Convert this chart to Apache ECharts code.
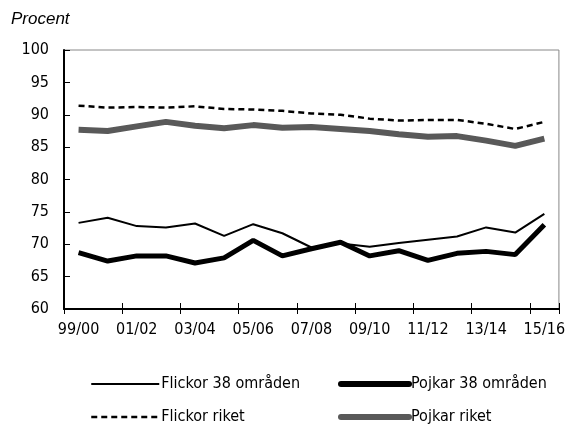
<!DOCTYPE html>
<html><head><meta charset="utf-8">
<script src="https://cdn.jsdelivr.net/npm/echarts@6/dist/echarts.min.js"></script>
<style>html,body{margin:0;padding:0;background:#fff}#c{width:568px;height:428px}</style>
</head><body><div id="c"></div>
<script>
const categories = ['99/00','00/01','01/02','02/03','03/04','04/05','05/06','06/07','07/08','08/09','09/10','10/11','11/12','12/13','13/14','14/15','15/16'];
const flickor38 = [73.3, 74.1, 72.8, 72.6, 73.2, 71.3, 73.1, 71.7, 69.5, 70.1, 69.6, 70.2, 70.7, 71.2, 72.6, 71.8, 74.7];
const pojkar38 = [68.7, 67.4, 68.2, 68.2, 67.1, 67.9, 70.6, 68.2, 69.3, 70.3, 68.2, 69.0, 67.5, 68.6, 68.9, 68.4, 73.0];
const flickorRiket = [91.4, 91.1, 91.2, 91.1, 91.3, 90.9, 90.8, 90.6, 90.2, 90.0, 89.4, 89.1, 89.2, 89.2, 88.6, 87.8, 88.9];
const pojkarRiket = [87.7, 87.5, 88.2, 88.9, 88.3, 87.9, 88.4, 88.0, 88.1, 87.8, 87.5, 87.0, 86.6, 86.7, 86.0, 85.2, 86.3];
const yTicks = [60, 65, 70, 75, 80, 85, 90, 95, 100];

const FONT = '"DejaVu Sans Condensed", "DejaVu Sans", sans-serif';
const W = 'condensed';
const chart = echarts.init(document.getElementById('c'), null, {renderer: 'canvas'});
const mk = (name, data, color, width, type, z) => ({
  name, type: 'line', data, symbol: 'none', showSymbol: false, z,
  lineStyle: {color, width, type},
  itemStyle: {color},
  emphasis: {disabled: true}, animation: false
});
const legendText = {fontSize: 16, fontFamily: FONT, fontWeight: W, color: '#000', lineHeight: 16, padding: [0, 0, 0, -3]};
chart.setOption({
  animation: false,
  grid: {left: 64, right: 6, top: 50, bottom: 119, show: true, borderColor: '#888', borderWidth: 1, backgroundColor: 'transparent'},
  title: {text: 'Procent', left: 6, top: 6, textStyle: {fontFamily: '"Liberation Sans", Arial, sans-serif', fontStyle: 'italic', fontWeight: 'normal', fontSize: 17, color: '#000'}},
  xAxis: [{
    type: 'category', data: categories, boundaryGap: true,
    axisLine: {lineStyle: {color: '#000', width: 2}},
    axisTick: {show: true, inside: false, length: 5, lineStyle: {color: '#000', width: 1}},
    axisLabel: {interval: 1, color: '#000', fontSize: 16, fontFamily: FONT, fontWeight: W, margin: 13},
    splitLine: {show: false}
  }, {
    type: 'category', data: categories, boundaryGap: true, position: 'bottom',
    axisLine: {show: false},
    axisTick: {show: true, inside: true, length: 6, lineStyle: {color: '#000', width: 1}},
    axisLabel: {show: false}, splitLine: {show: false}
  }],
  yAxis: {
    type: 'value', min: yTicks[0], max: yTicks[yTicks.length - 1], interval: 5,
    axisLine: {show: true, lineStyle: {color: '#000', width: 2}},
    axisTick: {show: true, inside: true, length: 6, lineStyle: {color: '#000'}},
    axisLabel: {color: '#000', fontSize: 16, fontFamily: FONT, fontWeight: W, margin: 15},
    splitLine: {show: false}
  },
  legend: [{
    orient: 'vertical', left: 90, top: 376, padding: 0, itemWidth: 68, itemHeight: 14, itemGap: 17,
    textStyle: legendText, itemStyle: {opacity: 0, borderWidth: 0},
    data: [{name: 'Flickor 38 områden', lineStyle: {width: 2}}, {name: 'Flickor riket', lineStyle: {width: 2.5}}], selectedMode: false
  }, {
    orient: 'vertical', left: 338, top: 376, padding: 0, itemWidth: 68, itemHeight: 14, itemGap: 17,
    textStyle: legendText, itemStyle: {opacity: 0, borderWidth: 0},
    data: [{name: 'Pojkar 38 områden', lineStyle: {width: 6, cap: 'round'}}, {name: 'Pojkar riket', lineStyle: {width: 6, cap: 'round'}}], selectedMode: false
  }],
  series: [
    mk('Flickor 38 områden', flickor38, '#000', 2, 'solid', 3),
    mk('Pojkar 38 områden', pojkar38, '#000', 5, 'solid', 4),
    mk('Flickor riket', flickorRiket, '#000', 2.5, [6, 4], 3),
    mk('Pojkar riket', pojkarRiket, '#595959', 6, 'solid', 2)
  ]
});
</script></body></html>
